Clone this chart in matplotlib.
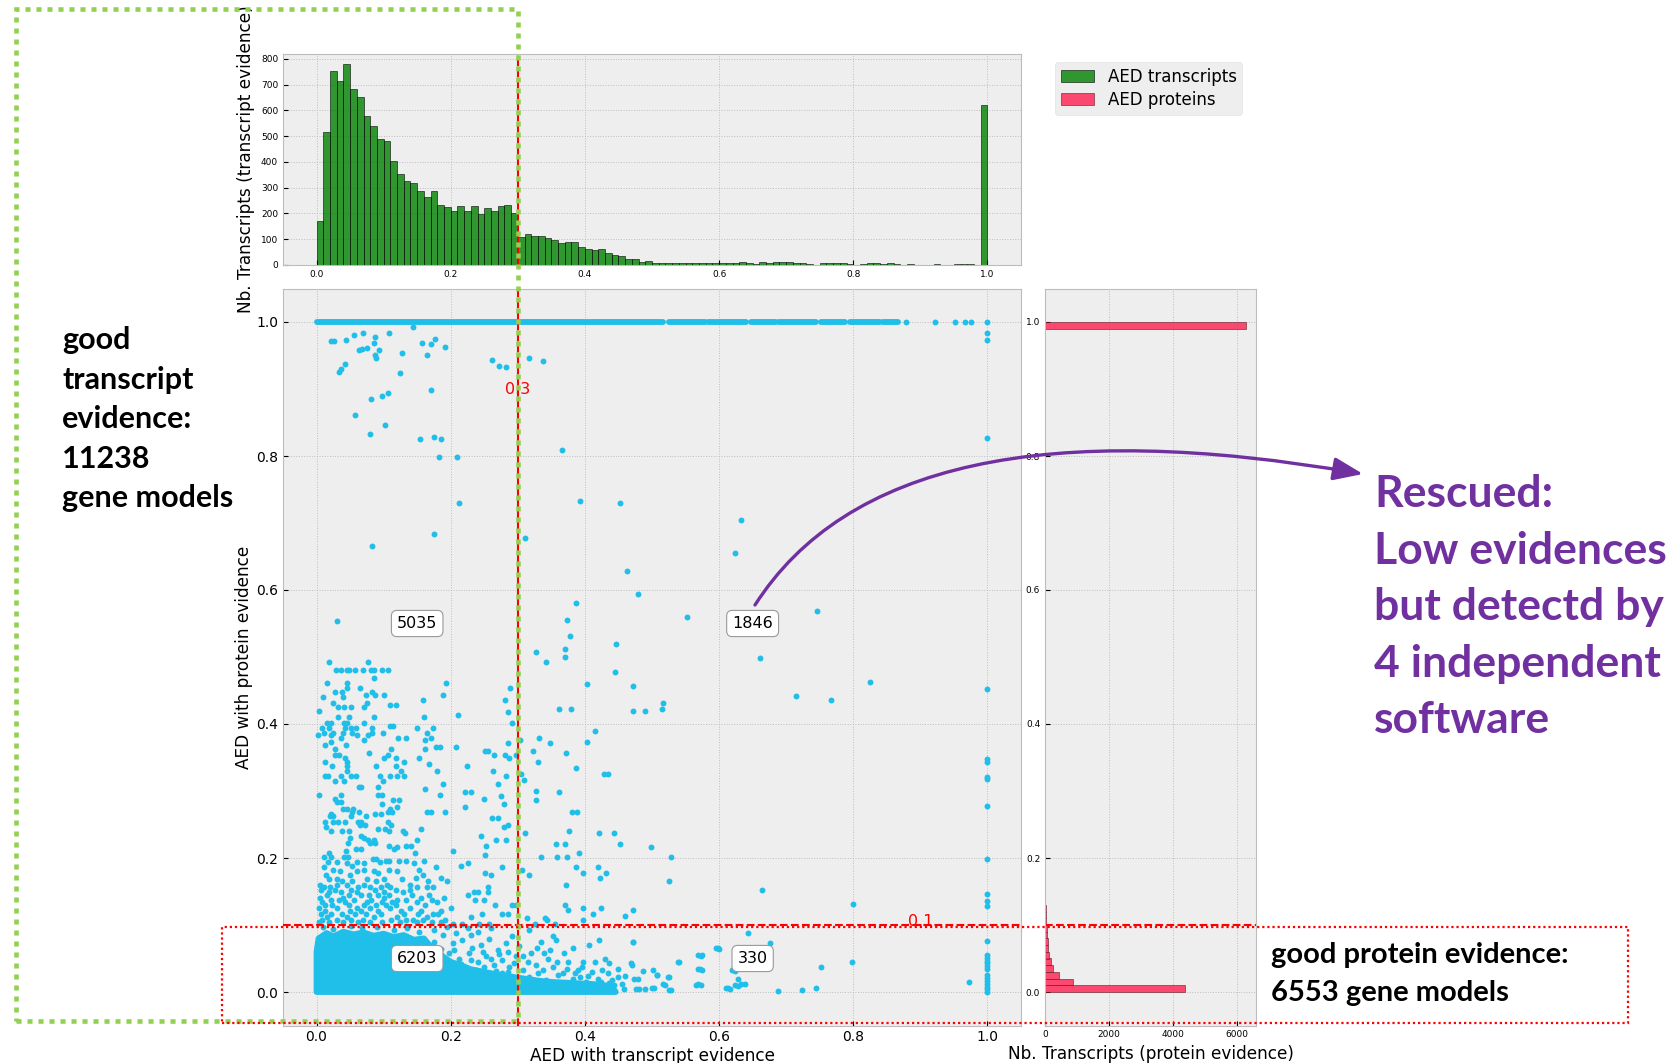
import numpy as np
import matplotlib
matplotlib.use("Agg")
import matplotlib.pyplot as plt
from matplotlib.patches import Rectangle, Polygon, FancyArrowPatch
from matplotlib.path import Path

# --- histogrammes : 100 classes de largeur 0.01 sur [0, 1] ---
BIN_EDGES = np.linspace(0.0, 1.0, 101)
BIN_CENTERS = (BIN_EDGES[:-1] + BIN_EDGES[1:]) / 2

TRANSCRIPT_COUNTS = [
    171, 515, 753, 716, 780, 685, 654, 579, 540, 491,
    483, 404, 352, 327, 318, 289, 265, 289, 232, 227,
    210, 229, 210, 228, 199, 221, 210, 228, 232, 203,
    108, 122, 112, 112, 105, 98, 85, 90, 90, 70,
    63, 60, 63, 48, 40, 33, 25, 25, 10, 17,
    9, 9, 9, 8, 9, 9, 8, 9, 9, 9,
    9, 9, 9, 13, 8, 5, 13, 8, 13, 10,
    10, 8, 8, 5, 0, 6, 6, 6, 6, 4,
    0, 4, 8, 8, 4, 6, 4, 0, 4, 0,
    0, 0, 4, 0, 0, 4, 4, 4, 0, 620,
]

PROTEIN_COUNTS = [
    4380, 860, 440, 265, 190, 120, 95, 80, 65, 58,
    30, 22, 16, 10, 6, 4, 5, 3, 4, 5,
    3, 4, 5, 3, 4, 3, 5, 4, 3, 4,
    4, 3, 3, 4, 2, 3, 4, 3, 3, 2,
    3, 3, 2, 4, 3, 2, 3, 3, 2, 3,
    2, 3, 0, 3, 2, 3, 2, 0, 3, 2,
    3, 2, 0, 2, 3, 0, 2, 3, 2, 0,
    2, 3, 0, 2, 2, 0, 3, 2, 0, 2,
    3, 2, 2, 0, 3, 2, 0, 2, 2, 3,
    0, 0, 2, 3, 2, 0, 2, 3, 2, 6280,
]

# --- nuage de points (AED transcrits, AED protéines) ---
# tronçons continus de points sur la ligne y = 1.0
TOP_ROW_RUNS = [(0.0, 0.517), (0.526, 0.579), (0.584, 0.64), (0.648, 0.685),
                (0.69, 0.745), (0.752, 0.787), (0.795, 0.84), (0.845, 0.866)]
TOP_ROW_SINGLE_X = [0.879, 0.922, 0.951, 0.967, 0.975, 1.0]

# points isolés à x = 1.0
EDGE_Y = [0.0, 0.004, 0.008, 0.012, 0.016, 0.021, 0.025, 0.035, 0.039, 0.043,
          0.047, 0.051, 0.055, 0.076, 0.128, 0.136, 0.147, 0.199, 0.277, 0.318,
          0.321, 0.344, 0.348, 0.452, 0.827, 0.973, 0.984]

UPPER_PTS = [
    (0.022, 0.971), (0.026, 0.972), (0.044, 0.973), (0.056, 0.980), (0.069, 0.983),
    (0.087, 0.977), (0.085, 0.968), (0.108, 0.983), (0.063, 0.958), (0.068, 0.959),
    (0.075, 0.961), (0.093, 0.958), (0.087, 0.951), (0.088, 0.947), (0.128, 0.953),
    (0.157, 0.969), (0.171, 0.967), (0.177, 0.975), (0.192, 0.962), (0.164, 0.951),
    (0.144, 0.993), (0.042, 0.938), (0.037, 0.930), (0.033, 0.925), (0.125, 0.924),
    (0.170, 0.898), (0.107, 0.894), (0.097, 0.889), (0.081, 0.885), (0.058, 0.861),
    (0.102, 0.846), (0.079, 0.833), (0.154, 0.825), (0.175, 0.829), (0.185, 0.826),
    (0.182, 0.799), (0.209, 0.798), (0.261, 0.943), (0.272, 0.935), (0.283, 0.933),
    (0.316, 0.946), (0.338, 0.942), (0.366, 0.809), (0.212, 0.730), (0.392, 0.733),
    (0.452, 0.730), (0.311, 0.677), (0.462, 0.628), (0.479, 0.594), (0.386, 0.581),
    (0.373, 0.555), (0.378, 0.532), (0.552, 0.560), (0.623, 0.655), (0.632, 0.704),
    (0.030, 0.553), (0.082, 0.666), (0.175, 0.683), (0.746, 0.568), (0.661, 0.498),
    (0.715, 0.442), (0.767, 0.436), (0.825, 0.463),
]

# bande 0.1 < y < 0.52 : ordonnée -> abscisses
MID_ROWS = {
    0.519: [0.446], 0.512: [0.371], 0.507: [0.327], 0.500: [0.370], 0.493: [0.342],
    0.492: [0.018, 0.076],
    0.481: [0.029, 0.037, 0.046, 0.049, 0.058, 0.069, 0.081, 0.086, 0.098, 0.107],
    0.477: [0.445], 0.469: [0.086], 0.461: [0.015, 0.046, 0.193], 0.459: [0.403],
    0.456: [0.472], 0.453: [0.046, 0.065, 0.289], 0.448: [0.028, 0.038, 0.082],
    0.443: [0.073, 0.087, 0.101, 0.188], 0.440: [0.009, 0.039], 0.436: [0.159, 0.281],
    0.432: [0.025, 0.075, 0.516], 0.428: [0.109, 0.118],
    0.426: [0.032, 0.041, 0.051, 0.071], 0.423: [0.362, 0.380, 0.515],
    0.420: [0.003, 0.472, 0.490], 0.418: [0.286], 0.413: [0.211],
    0.410: [0.032, 0.048, 0.085, 0.160], 0.402: [0.016, 0.022, 0.041, 0.046, 0.071],
    0.401: [0.292], 0.397: [0.109, 0.114],
    0.394: [0.008, 0.018, 0.042, 0.051, 0.059, 0.082, 0.150, 0.174], 0.389: [0.415],
    0.386: [0.011, 0.025, 0.040, 0.053, 0.083, 0.099, 0.165],
    0.383: [0.002, 0.022, 0.060, 0.077], 0.379: [0.037, 0.122, 0.134, 0.171, 0.332],
    0.376: [0.070, 0.162, 0.303], 0.373: [0.022, 0.403], 0.371: [0.348, 0.286],
    0.369: [0.013, 0.044], 0.366: [0.178, 0.184, 0.208], 0.362: [0.027, 0.111, 0.162],
    0.359: [0.251, 0.256, 0.322], 0.356: [0.078, 0.372],
    0.354: [0.028, 0.034, 0.106, 0.265, 0.281, 0.297],
    0.349: [0.042, 0.100, 0.118, 0.153, 0.287], 0.344: [0.012, 0.045, 0.131, 0.330],
    0.341: [0.168], 0.337: [0.023, 0.046, 0.089, 0.119, 0.224], 0.335: [0.386],
    0.330: [0.179, 0.263, 0.126, 0.046], 0.326: [0.304, 0.429, 0.434],
    0.322: [0.012, 0.017, 0.037, 0.052, 0.059, 0.095, 0.109, 0.120, 0.130, 0.283],
    0.317: [0.309], 0.315: [0.027, 0.041, 0.099], 0.311: [0.189, 0.270],
    0.306: [0.063, 0.092, 0.066], 0.303: [0.162], 0.300: [0.327],
    0.298: [0.222, 0.230, 0.361], 0.294: [0.003, 0.036, 0.091, 0.098, 0.184],
    0.292: [0.275], 0.288: [0.027, 0.249], 0.286: [0.114, 0.123, 0.327],
    0.283: [0.031, 0.036], 0.280: [0.097, 0.279], 0.276: [0.120, 0.221],
    0.273: [0.040, 0.045, 0.055, 0.109], 0.269: [0.064, 0.381, 0.388],
    0.268: [0.053, 0.164, 0.170, 0.191, 0.107, 0.113], 0.266: [0.021, 0.087, 0.096],
    0.262: [0.020, 0.024, 0.051, 0.074], 0.259: [0.261, 0.270],
    0.254: [0.013, 0.025, 0.032, 0.043, 0.062, 0.067, 0.106],
    0.249: [0.065, 0.072, 0.111, 0.286], 0.247: [0.014, 0.279],
    0.243: [0.092, 0.102, 0.156], 0.240: [0.022, 0.038, 0.048, 0.108, 0.129, 0.377],
    0.237: [0.132, 0.311, 0.421, 0.444], 0.233: [0.067, 0.245], 0.230: [0.050, 0.070],
    0.227: [0.077, 0.085, 0.150, 0.268, 0.282], 0.223: [0.047, 0.079, 0.087],
    0.221: [0.357, 0.371, 0.452], 0.218: [0.108, 0.133, 0.141, 0.252],
    0.216: [0.120, 0.499], 0.214: [0.059, 0.067, 0.116], 0.210: [0.044, 0.203],
    0.208: [0.019, 0.147, 0.391], 0.204: [0.251],
    0.202: [0.011, 0.021, 0.041, 0.047, 0.334, 0.359, 0.373, 0.529],
    0.198: [0.084, 0.089], 0.196: [0.103, 0.108, 0.123, 0.134, 0.160],
    0.194: [0.017, 0.031, 0.060, 0.094],
    0.192: [0.045, 0.070, 0.146, 0.225], 0.188: [0.053, 0.215],
    0.186: [0.011, 0.178, 0.276, 0.386, 0.420], 0.182: [0.024, 0.071, 0.108, 0.153, 0.306],
    0.180: [0.035, 0.060, 0.085, 0.120],
    0.177: [0.091, 0.251, 0.397, 0.432], 0.174: [0.014, 0.050, 0.158, 0.260, 0.317],
    0.170: [0.148, 0.185, 0.423], 0.168: [0.019, 0.030, 0.075, 0.101, 0.128],
    0.165: [0.038, 0.053, 0.089, 0.166, 0.195, 0.526],
    0.160: [0.372, 0.005, 0.030, 0.045, 0.070, 0.105, 0.140],
    0.157: [0.011, 0.020, 0.062, 0.079, 0.096, 0.110, 0.149, 0.164, 0.174, 0.256],
    0.152: [0.006, 0.027, 0.051, 0.087, 0.118, 0.139],
    0.150: [0.018, 0.036, 0.061, 0.101, 0.129, 0.235, 0.241, 0.255],
    0.145: [0.015, 0.048, 0.066, 0.078, 0.092, 0.108, 0.143, 0.168, 0.225],
    0.140: [0.005, 0.040, 0.100, 0.155, 0.190],
    0.137: [0.022, 0.034, 0.056, 0.081, 0.120, 0.134, 0.172, 0.236, 0.249],
    0.134: [0.008, 0.043, 0.075, 0.097, 0.113, 0.150, 0.180],
    0.130: [0.013, 0.023, 0.048, 0.070, 0.089, 0.103, 0.118, 0.161, 0.266, 0.292, 0.297, 0.371],
    0.126: [0.424, 0.397], 0.125: [0.004, 0.030, 0.060, 0.080, 0.110, 0.140, 0.200],
    0.122: [0.375, 0.471], 0.121: [0.012, 0.050, 0.067, 0.092, 0.126, 0.156, 0.185],
    0.117: [0.007, 0.021, 0.038, 0.058, 0.074, 0.096, 0.130, 0.151, 0.173, 0.181, 0.246, 0.276, 0.285, 0.412],
    0.113: [0.460], 0.112: [0.015, 0.045, 0.085, 0.120, 0.165, 0.230],
    0.111: [0.313, 0.341],
    0.108: [0.008, 0.031, 0.051, 0.069, 0.111, 0.134, 0.144, 0.158, 0.191, 0.344, 0.397],
    0.104: [0.004, 0.018, 0.040, 0.062, 0.080, 0.098, 0.125, 0.150, 0.172, 0.186],
    0.102: [0.203, 0.217, 0.242, 0.257, 0.325, 0.355],
}

# sous y = 0.1, autour du noyau dense
LOW_PTS = [
    (0.010, 0.097), (0.025, 0.094), (0.052, 0.098), (0.068, 0.095), (0.090, 0.097),
    (0.115, 0.093), (0.135, 0.096), (0.152, 0.090), (0.175, 0.092), (0.188, 0.085),
    (0.195, 0.097), (0.208, 0.088), (0.225, 0.095), (0.240, 0.090), (0.260, 0.095),
    (0.203, 0.073), (0.217, 0.078), (0.230, 0.085), (0.245, 0.070), (0.257, 0.079),
    (0.270, 0.063), (0.282, 0.073), (0.292, 0.083), (0.302, 0.068), (0.198, 0.058),
    (0.212, 0.050), (0.227, 0.058), (0.240, 0.045), (0.252, 0.053), (0.265, 0.040),
    (0.277, 0.048), (0.287, 0.038), (0.297, 0.053), (0.307, 0.033), (0.222, 0.038),
    (0.237, 0.033), (0.257, 0.028), (0.277, 0.028), (0.317, 0.093), (0.329, 0.065),
    (0.339, 0.058), (0.352, 0.083), (0.357, 0.078), (0.369, 0.058), (0.382, 0.065),
    (0.397, 0.045), (0.406, 0.070), (0.421, 0.078), (0.430, 0.050), (0.436, 0.043),
    (0.450, 0.023), (0.469, 0.043), (0.472, 0.074), (0.479, 0.020), (0.489, 0.005),
    (0.501, 0.033), (0.508, 0.025), (0.520, 0.010), (0.526, 0.023), (0.528, 0.003),
    (0.540, 0.045), (0.568, 0.012), (0.572, 0.035), (0.573, 0.054), (0.598, 0.065),
    (0.613, 0.006), (0.337, 0.033), (0.352, 0.038), (0.367, 0.028), (0.382, 0.020),
    (0.392, 0.023), (0.401, 0.015), (0.424, 0.015), (0.436, 0.013), (0.444, 0.010),
    (0.459, 0.004), (0.481, 0.004), (0.317, 0.023), (0.327, 0.040), (0.342, 0.018),
    (0.359, 0.045), (0.374, 0.035), (0.389, 0.033), (0.411, 0.030), (0.426, 0.033),
    (0.307, 0.053), (0.312, 0.013), (0.322, 0.008),
    (0.175, 0.075), (0.185, 0.064), (0.190, 0.050), (0.205, 0.062), (0.215, 0.042),
    (0.232, 0.066), (0.248, 0.060), (0.260, 0.050), (0.272, 0.056), (0.285, 0.060),
    (0.295, 0.043), (0.250, 0.038), (0.268, 0.032), (0.285, 0.030), (0.230, 0.048),
    (0.205, 0.035), (0.315, 0.045), (0.330, 0.028), (0.345, 0.050), (0.360, 0.025),
    (0.375, 0.045), (0.385, 0.028), (0.395, 0.038), (0.405, 0.024), (0.415, 0.045),
    (0.420, 0.020), (0.435, 0.028), (0.440, 0.018), (0.450, 0.035), (0.455, 0.012),
    (0.320, 0.058), (0.335, 0.075), (0.348, 0.062),
    (0.460, 0.024), (0.473, 0.019), (0.487, 0.032), (0.500, 0.006), (0.508, 0.026),
    (0.517, 0.012), (0.524, 0.023), (0.539, 0.045), (0.525, 0.003), (0.565, 0.011),
    (0.569, 0.055), (0.569, 0.034), (0.595, 0.065), (0.611, 0.006), (0.619, 0.033),
    (0.624, 0.010), (0.633, 0.012), (0.471, 0.074), (0.470, 0.040), (0.476, 0.004),
    (0.503, 0.006), (0.664, 0.152), (0.800, 0.131), (0.643, 0.088), (0.676, 0.073),
    (0.600, 0.064), (0.574, 0.055), (0.574, 0.033), (0.752, 0.038), (0.798, 0.045),
    (0.972, 0.015), (0.624, 0.031), (0.628, 0.020), (0.638, 0.012), (0.628, 0.009),
    (0.616, 0.005), (0.688, 0.001), (0.723, 0.003), (0.744, 0.006), (0.573, 0.011),
]

# contour du noyau dense (points confondus) en bas à gauche
CORE_X = [0.0, 0.0, 0.003, 0.015, 0.025, 0.04, 0.055, 0.07, 0.085, 0.10, 0.115, 0.13,
          0.145, 0.16, 0.17, 0.18, 0.19, 0.20, 0.215, 0.23, 0.25, 0.27, 0.29, 0.31,
          0.33, 0.35, 0.37, 0.39, 0.41, 0.43, 0.44, 0.446]
CORE_Y = [0.0, 0.06, 0.080, 0.088, 0.083, 0.090, 0.086, 0.089, 0.084, 0.087, 0.082, 0.085,
          0.078, 0.080, 0.068, 0.060, 0.052, 0.045, 0.040, 0.034, 0.030, 0.026, 0.023, 0.020,
          0.017, 0.015, 0.014, 0.013, 0.012, 0.010, 0.008, 0.0]

QUAD_LABELS = ["5035", "1846", "6203", "330"]
QUAD_X = [0.15, 0.65, 0.15, 0.65]
QUAD_Y = [0.55, 0.55, 0.05, 0.05]

X_CUT, Y_CUT = 0.3, 0.1

DOT = "#1fbfea"
PURPLE = "#7030a0"
GREEN_BOX = "#92d050"

# --- mise en page, en pixels de l'image 1676 x 1063 ---
W, H = 1676, 1063


def fx(x):
    return x / W


def fy(y):
    return 1 - y / H


plt.style.use("bmh")
plt.rcParams["axes.axisbelow"] = True
plt.rcParams["grid.linestyle"] = ":"
plt.rcParams["grid.color"] = "#bdbdbd"
plt.rcParams["grid.linewidth"] = 0.7

fig = plt.figure(figsize=(W / 100, H / 100), dpi=100)

ax_sc = fig.add_axes([fx(283), fy(1025.5), (1021 - 283) / W, (1025.5 - 288.5) / H])
ax_top = fig.add_axes([fx(283), fy(265), (1021 - 283) / W, (265 - 54) / H], sharex=ax_sc)
ax_right = fig.add_axes([fx(1045), fy(1025.5), (1256 - 1045) / W, (1025.5 - 288.5) / H],
                        sharey=ax_sc)

LABEL_SIZE = 12.2

# histogramme du haut (transcrits)
_, _, bars_t = ax_top.hist(BIN_CENTERS, bins=BIN_EDGES, weights=TRANSCRIPT_COUNTS,
                           color="green", alpha=0.8, edgecolor="black", linewidth=0.5,
                           label="AED transcripts")
ax_top.axvline(X_CUT, color="red", ls="--", lw=1.5)
ax_top.set_yticks(range(0, 801, 100))
ax_top.tick_params(labelsize=6.5)
ax_top.set_ylabel("Nb. Transcripts (transcript evidence)", fontsize=LABEL_SIZE)

# histogramme de droite (protéines)
_, _, bars_p = ax_right.hist(BIN_CENTERS, bins=BIN_EDGES, weights=PROTEIN_COUNTS,
                             orientation="horizontal", color="#ff1f4f", alpha=0.8,
                             edgecolor="#5a1a22", linewidth=0.5, label="AED proteins")
ax_right.axhline(Y_CUT, color="red", ls="--", lw=1.5)
ax_right.set_xticks([0, 2000, 4000, 6000])
ax_right.tick_params(labelsize=6.5)
ax_right.set_xlabel("Nb. Transcripts (protein evidence)", fontsize=LABEL_SIZE)

# nuage de points
ax_sc.add_patch(Polygon(np.column_stack([CORE_X, CORE_Y]), closed=True, fc=DOT, ec=DOT,
                        lw=4.2, joinstyle="round", zorder=2))
for x0, x1 in TOP_ROW_RUNS:
    ax_sc.plot([x0, x1], [1.0, 1.0], color=DOT, lw=4.24, solid_capstyle="round", zorder=2)

mid_x = [x for y, xs in MID_ROWS.items() for x in xs]
mid_y = [y for y, xs in MID_ROWS.items() for x in xs]
all_x = (TOP_ROW_SINGLE_X + [1.0] * len(EDGE_Y) + [p[0] for p in UPPER_PTS]
         + mid_x + [p[0] for p in LOW_PTS])
all_y = ([1.0] * len(TOP_ROW_SINGLE_X) + EDGE_Y + [p[1] for p in UPPER_PTS]
         + mid_y + [p[1] for p in LOW_PTS])
ax_sc.scatter(all_x, all_y, s=18, color=DOT, linewidths=0, zorder=2)

ax_sc.axvline(X_CUT, color="red", ls="--", lw=1.5, zorder=3)
ax_sc.axhline(Y_CUT, color="red", ls="--", lw=1.5, zorder=3)
ax_sc.text(X_CUT, 0.9, "0.3", color="red", fontsize=11.5, ha="center", va="center", zorder=4)
ax_sc.text(0.9, 0.105, "0.1", color="red", fontsize=11.5, ha="center", va="center", zorder=4)

for lab, x, y in zip(QUAD_LABELS, QUAD_X, QUAD_Y):
    ax_sc.text(x, y, lab, fontsize=11.5, ha="center", va="center", zorder=5,
               bbox=dict(boxstyle="round,pad=0.35", fc="white", ec="#999999", lw=0.8))

ax_sc.set_xlim(-0.05, 1.05)
ax_sc.set_ylim(-0.05, 1.05)
ax_sc.tick_params(labelsize=10)
ax_sc.set_xlabel("AED with transcript evidence", fontsize=LABEL_SIZE, labelpad=2)
ax_sc.set_ylabel("AED with protein evidence", fontsize=LABEL_SIZE, labelpad=2)

fig.legend(handles=[bars_t, bars_p], labels=["AED transcripts", "AED proteins"],
           loc="upper left", bbox_to_anchor=(fx(1055), fy(62)), borderaxespad=0,
           fontsize=12, handlelength=2.0, labelspacing=0.3, borderpad=0.35,
           framealpha=1, facecolor="#eeeeee", edgecolor="#e2e2e2")

# --- annotations ajoutées par-dessus la figure ---
fig.add_artist(Rectangle((fx(16), fy(1021)), (518 - 16) / W, (1021 - 9) / H,
                         transform=fig.transFigure, fill=False, ec=GREEN_BOX, lw=3.3,
                         ls=(0, (1.1, 1.3)), capstyle="butt", zorder=20))
fig.add_artist(Rectangle((fx(222), fy(1023)), (1628 - 222) / W, (1023 - 927) / H,
                         transform=fig.transFigure, fill=False, ec="red", lw=1.6,
                         ls=(0, (1.0, 1.3)), zorder=20))

arrow_path = Path([(fx(755), fy(605)), (fx(891), fy(392)), (fx(1363), fy(474))],
                  [Path.MOVETO, Path.CURVE3, Path.CURVE3])
fig.add_artist(FancyArrowPatch(path=arrow_path,
                               arrowstyle="-|>,head_length=0.9,head_width=0.35",
                               mutation_scale=20, color=PURPLE, lw=2.4,
                               transform=fig.transFigure, zorder=21))

note_font = ["Lato", "DejaVu Sans"]
fig.text(fx(62), fy(326), "good\ntranscript\nevidence:\n11238\ngene models",
         fontsize=22, fontweight="bold", family=note_font, ha="left", va="top",
         linespacing=1.5)
fig.text(fx(1271), fy(942), "good protein evidence:\n6553 gene models",
         fontsize=21, fontweight="bold", family=note_font, ha="left", va="top",
         linespacing=1.58)
fig.text(fx(1374), fy(474), "Rescued:\nLow evidences\nbut detectd by\n4 independent\nsoftware",
         fontsize=32, fontweight="bold", family=note_font, color=PURPLE, ha="left",
         va="top", linespacing=1.5)

fig.savefig("out.png", dpi=100)
